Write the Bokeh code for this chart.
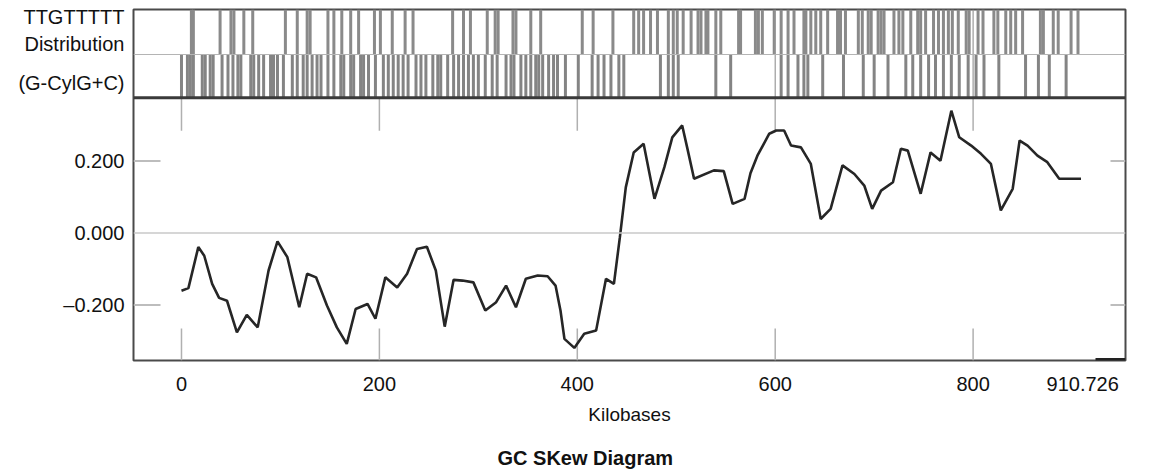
from bokeh.plotting import figure
from bokeh.models import FixedTicker, Span, Title, Range1d
from bokeh.embed import file_html
from bokeh.resources import INLINE

# ---------------- data ----------------
skew_kb = [0, 7, 17, 23, 31, 38, 46, 56, 66, 77, 88, 97, 107, 119, 127, 136, 147, 157, 167, 176,
           188, 196, 206, 218, 228, 238, 248, 257, 266, 275, 284, 295, 307, 318, 328, 338, 348, 360,
           370, 378, 383, 387, 397, 407, 419, 429, 437, 443, 449, 457, 467, 478, 488, 496, 506, 511,
           518, 538, 548, 557, 569, 575, 582, 594, 601, 609, 616, 626, 636, 646, 656, 668, 680, 690,
           698, 707, 719, 727, 734, 747, 757, 767, 778, 786, 798, 808, 818, 828, 840, 847, 855, 865,
           875, 887, 909]
skew_val = [-0.160, -0.153, -0.039, -0.063, -0.141, -0.180, -0.188, -0.276, -0.227, -0.262, -0.104,
            -0.023, -0.067, -0.206, -0.113, -0.123, -0.201, -0.262, -0.308, -0.211, -0.197, -0.238,
            -0.123, -0.151, -0.113, -0.044, -0.038, -0.104, -0.260, -0.130, -0.132, -0.137, -0.215,
            -0.192, -0.146, -0.206, -0.127, -0.118, -0.120, -0.146, -0.215, -0.294, -0.319, -0.280,
            -0.271, -0.127, -0.141, -0.012, 0.127, 0.224, 0.248, 0.095, 0.183, 0.266, 0.299, 0.238,
            0.151, 0.174, 0.172, 0.081, 0.095, 0.166, 0.215, 0.276, 0.285, 0.285, 0.243, 0.238, 0.192,
            0.039, 0.067, 0.188, 0.164, 0.132, 0.067, 0.118, 0.141, 0.234, 0.229, 0.109, 0.224, 0.201,
            0.340, 0.266, 0.243, 0.220, 0.192, 0.063, 0.123, 0.257, 0.243, 0.215, 0.197, 0.151, 0.151]

# TTGTTTTT occurrences (kb), upper row and lower row of the distribution band
upper_row_kb = [10, 12, 39, 50, 53, 63, 72, 105, 117, 127, 130, 148, 154, 162, 171, 179, 195, 201,
                213, 226, 234, 274, 285, 292, 309, 317, 320, 335, 338, 353, 363, 405, 416, 436, 457,
                462, 467, 474, 481, 492, 497, 501, 507, 515, 522, 525, 530, 532, 540, 545, 563, 565,
                580, 583, 587, 599, 606, 613, 619, 629, 631, 636, 641, 646, 653, 663, 666, 671, 684,
                688, 694, 697, 704, 707, 710, 720, 725, 729, 737, 744, 747, 752, 760, 765, 770, 775,
                779, 785, 793, 796, 805, 810, 821, 825, 833, 838, 843, 850, 868, 871, 881, 886, 899, 906]
lower_row_kb = [0, 6, 9, 12, 21, 24, 29, 32, 41, 47, 52, 57, 60, 70, 73, 78, 83, 90, 93, 97, 103,
                112, 117, 123, 127, 132, 137, 141, 148, 154, 161, 164, 171, 174, 181, 184, 189, 196,
                204, 209, 214, 219, 224, 229, 237, 242, 247, 254, 259, 262, 269, 275, 280, 285, 290,
                295, 300, 307, 314, 319, 328, 333, 336, 343, 348, 353, 358, 361, 365, 371, 376, 380,
                388, 401, 415, 421, 427, 434, 442, 447, 484, 492, 497, 502, 540, 555, 606, 613, 623,
                629, 633, 648, 669, 689, 700, 714, 732, 739, 747, 755, 762, 770, 778, 786, 795, 803,
                811, 826, 853, 866, 877, 894]

x_tick_values = [0, 200, 400, 600, 800, 910.726]
x_tick_labels = ["0", "200", "400", "600", "800", "910.726"]
y_tick_values = [-0.2, 0.0, 0.2]
y_tick_labels = ["\u20130.200", "0.000", "0.200"]
row_labels = ["(G-CylG+C)", "Distribution", "TTGTTTTT"]
chart_title = "GC SKew Diagram"

# ---------------- layout constants ----------------
X0, X1 = -48.5, 954.0
Y0, Y1 = -0.354, 0.621
MAIN_TOP = 0.376
BAND_MID = 0.496
row_label_pos = [0.418, 0.524, 0.601]
FRAME_W, FRAME_H = 992, 351
kb_per_px = (X1 - X0) / FRAME_W
val_per_px = (Y1 - Y0) / FRAME_H

FONT = "Liberation Sans"

p = figure(width=1169, height=473, output_backend="svg", toolbar_location=None,
           x_range=Range1d(X0, X1), y_range=Range1d(Y0, Y1),
           min_border_left=133, min_border_right=44, min_border_top=9, min_border_bottom=113,
           title_location=None)
p.background_fill_color = "white"
p.border_fill_color = "white"
p.outline_line_color = "#4a4a4a"
p.outline_line_width = 2
p.grid.visible = False

# axes
p.xaxis.ticker = FixedTicker(ticks=x_tick_values)
p.xaxis.major_label_overrides = dict(zip(x_tick_values, x_tick_labels))
p.xaxis.axis_label = "Kilobases"
p.xaxis.axis_label_standoff = 10
p.xaxis.major_label_standoff = 16
p.yaxis.ticker = FixedTicker(ticks=y_tick_values + row_label_pos)
p.yaxis.major_label_overrides = dict(zip(y_tick_values + row_label_pos, y_tick_labels + row_labels))
p.yaxis.major_label_standoff = 9
for ax in (p.xaxis, p.yaxis):
    ax.axis_line_color = None
    ax.major_tick_in = 0
    ax.major_tick_out = 0
    ax.minor_tick_in = 0
    ax.minor_tick_out = 0
    ax.major_label_text_font = FONT
    ax.major_label_text_font_size = "20px"
    ax.major_label_text_color = "#111111"
    ax.axis_label_text_font = FONT
    ax.axis_label_text_font_size = "19px"
    ax.axis_label_text_font_style = "normal"
    ax.axis_label_text_color = "#111111"

# reference lines
p.add_layout(Span(location=0, dimension="width", line_color="#c8c8c8", line_width=1.5))
p.add_layout(Span(location=BAND_MID, dimension="width", line_color="#b4b4b4", line_width=1))

# distribution bars
p.segment(x0=upper_row_kb, y0=[BAND_MID] * len(upper_row_kb), x1=upper_row_kb,
          y1=[Y1] * len(upper_row_kb), line_color="#8a8a8a", line_width=3)
p.segment(x0=lower_row_kb, y0=[MAIN_TOP] * len(lower_row_kb), x1=lower_row_kb,
          y1=[BAND_MID] * len(lower_row_kb), line_color="#848484", line_width=3)

# tick decorations inside the frame
yt = [v for v in y_tick_values if v != 0]
p.segment(x0=[X0] * len(yt), y0=yt, x1=[X0 + 27 * kb_per_px] * len(yt), y1=yt,
          line_color="#bdbdbd", line_width=2)
p.segment(x0=[X1 - 15 * kb_per_px] * len(yt), y0=yt, x1=[X1] * len(yt), y1=yt,
          line_color="#bdbdbd", line_width=2)
xt = x_tick_values[:-1]
p.segment(x0=xt, y0=[Y0] * len(xt), x1=xt, y1=[Y0 + 32 * val_per_px] * len(xt),
          line_color="#b0b0b0", line_width=1.5)
p.segment(x0=xt, y0=[MAIN_TOP] * len(xt), x1=xt, y1=[MAIN_TOP - 33 * val_per_px] * len(xt),
          line_color="#b0b0b0", line_width=1.5)
xt_band = [v for v in xt if v >= 600]
p.segment(x0=xt_band, y0=[MAIN_TOP] * len(xt_band), x1=xt_band, y1=[Y1] * len(xt_band),
          line_color="#9a9a9a", line_width=1.2)
p.segment(x0=[X1 - 30 * kb_per_px], y0=[Y0], x1=[X1], y1=[Y0], line_color="#222222", line_width=5)

# main divider
p.add_layout(Span(location=MAIN_TOP, dimension="width", line_color="#3a3a3a", line_width=3))

# the GC skew curve
p.line(skew_kb, skew_val, line_color="#262626", line_width=2.6)

# spacer and title below the axis
p.add_layout(Title(text=" ", text_font_size="2px", standoff=12), "below")
p.add_layout(Title(text=chart_title, align="left", offset=364, text_font=FONT,
                   text_font_size="20px", text_font_style="bold", text_color="#111111",
                   standoff=2), "below")

open("out.html", "w").write(file_html(p, INLINE))
